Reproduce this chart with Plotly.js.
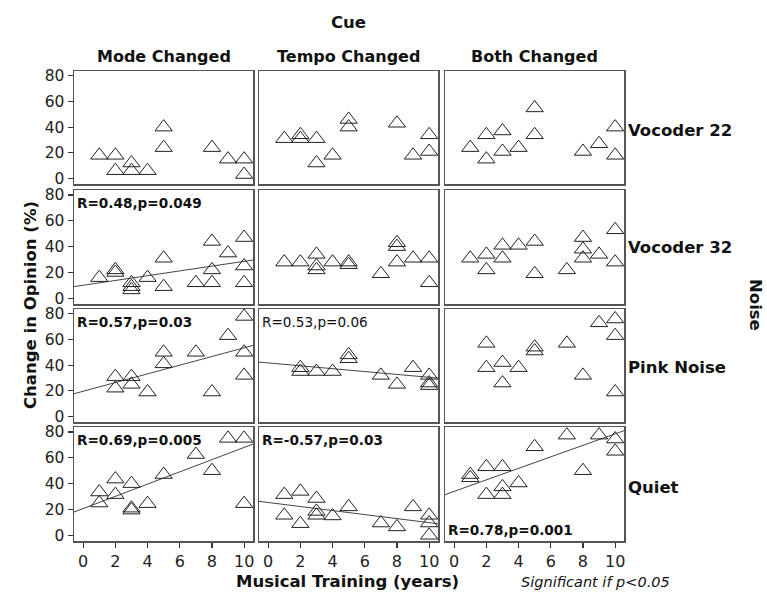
<!DOCTYPE html>
<html><head><meta charset="utf-8">
<script src="https://cdn.plot.ly/plotly-3.0.1.min.js"></script>
<style>body{margin:0;background:#fff;} #chart{width:767px;height:592px;}</style>
</head><body><div id="chart"></div>
<script>
// ---------- data ----------
const cues = ["Mode Changed", "Tempo Changed", "Both Changed"];
const noises = ["Vocoder 22", "Vocoder 32", "Pink Noise", "Quiet"];
const xTicks = [0, 2, 4, 6, 8, 10];
const yTicks = [0, 20, 40, 60, 80];

// Vocoder 22
const modeV22X  = [1, 2, 2, 3, 3, 4, 5, 5, 8, 9, 10, 10];
const modeV22Y  = [18, 18, 6, 12, 6, 6, 40, 24, 24, 15, 15, 3];
const tempoV22X = [1, 2, 2, 3, 3, 4, 5, 5, 8, 9, 10, 10];
const tempoV22Y = [31, 34, 31, 31, 12, 18, 46, 40, 43, 18, 34, 21];
const bothV22X  = [1, 2, 2, 3, 3, 4, 5, 5, 8, 9, 10, 10];
const bothV22Y  = [24, 34, 15, 37, 21, 24, 55, 34, 21, 27, 40, 18];

// Vocoder 32
const modeV32X  = [1, 2, 2, 3, 3, 3, 4, 5, 5, 7, 8, 8, 8, 9, 10, 10, 10];
const modeV32Y  = [16, 22, 20, 12, 9, 6.5, 16, 31, 9, 12, 44, 22, 12, 35, 47, 25, 12];
const tempoV32X = [1, 2, 3, 3, 3, 4, 5, 5, 7, 8, 8, 8, 9, 10, 10];
const tempoV32Y = [28, 28, 34, 25, 22, 28, 28, 26, 19, 43, 40, 28, 31, 31, 12];
const bothV32X  = [1, 2, 2, 3, 3, 4, 5, 5, 7, 8, 8, 8, 9, 10, 10];
const bothV32Y  = [31, 34, 22, 41, 31, 41, 44, 19, 22, 47, 38, 31, 34, 53, 28];

// Pink Noise
const modePinkX  = [2, 2, 3, 3, 4, 5, 5, 7, 8, 9, 10, 10, 10];
const modePinkY  = [31, 22, 31, 25, 19, 50, 41, 50, 19, 63, 78, 50, 32];
const tempoPinkX = [2, 2, 3, 4, 5, 5, 7, 8, 9, 10, 10, 10];
const tempoPinkY = [38, 35, 35, 35, 48, 45, 32, 25, 38, 32, 26, 24];
const bothPinkX  = [2, 2, 3, 3, 4, 5, 5, 7, 8, 9, 10, 10, 10];
const bothPinkY  = [57, 38, 42, 26, 38, 54, 51, 57, 32, 73, 76, 63, 19];

// Quiet
const modeQuietX  = [1, 1, 2, 2, 3, 3, 3, 4, 5, 7, 8, 9, 10, 10];
const modeQuietY  = [33.5, 25, 43.5, 31.5, 40, 21, 19.5, 24.5, 47, 62.5, 50, 75, 75, 24.5];
const tempoQuietX = [1, 1, 2, 2, 3, 3, 3, 4, 5, 7, 8, 9, 10, 10, 10];
const tempoQuietY = [31.5, 15.5, 34, 9, 28.5, 18.5, 15.5, 15, 22, 9.5, 6.5, 22, 15.5, 9.5, 0];
const bothQuietX  = [1, 1, 2, 2, 3, 3, 3, 4, 5, 7, 8, 9, 10, 10];
const bothQuietY  = [47, 44.5, 53, 31.5, 53, 37.5, 31.5, 40.5, 68.5, 77.5, 50, 77.5, 74.5, 65];

// regression fits per panel (row-major: rows = noise, cols = cue); null = no fit
const fitIntercept = [null, null, null,  10.1, null, null,  19.6, 41.7, null,  20.7, 25.4, 34.0];
const fitSlope     = [null, null, null,  1.85, null, null,  3.39, -1.12, null, 4.73, -1.56, 4.45];
const statText     = ["", "", "",  "R=0.48,p=0.049", "", "",  "R=0.57,p=0.03", "R=0.53,p=0.06", "",  "R=0.69,p=0.005", "R=-0.57,p=0.03", "R=0.78,p=0.001"];
const statBold     = [false, false, false, true, false, false, true, false, false, true, true, true];
const statAtBottom = [false, false, false, false, false, false, false, false, false, false, false, true];

const panelX = [modeV22X, tempoV22X, bothV22X, modeV32X, tempoV32X, bothV32X,
                modePinkX, tempoPinkX, bothPinkX, modeQuietX, tempoQuietX, bothQuietX];
const panelY = [modeV22Y, tempoV22Y, bothV22Y, modeV32Y, tempoV32Y, bothV32Y,
                modePinkY, tempoPinkY, bothPinkY, modeQuietY, tempoQuietY, bothQuietY];

// ---------- layout geometry (pixels) ----------
const W = 767, H = 592;
const colPx = [[74, 253], [259, 438], [445, 624]];
const rowPx = [[71, 184], [190, 304], [309, 422], [427, 541]];
const xRange = [-0.57, 10.55];
const yRange = [-4.4, 83.8];
const FONT = "'DejaVu Sans', Arial, sans-serif";
const px = v => v / W;
const py = v => 1 - v / H;

const traces = [];
const layout = {
  width: W, height: H,
  margin: {l: 0, r: 0, t: 0, b: 0},
  paper_bgcolor: "#ffffff", plot_bgcolor: "#ffffff",
  showlegend: false,
  font: {family: FONT, color: "#111"},
  annotations: []
};

for (let r = 0; r < 4; r++) {
  for (let c = 0; c < 3; c++) {
    const i = r * 3 + c;
    const k = i + 1;
    const xa = "x" + (k === 1 ? "" : k), ya = "y" + (k === 1 ? "" : k);
    const xKey = "xaxis" + (k === 1 ? "" : k), yKey = "yaxis" + (k === 1 ? "" : k);
    layout[xKey] = {
      domain: [px(colPx[c][0]), px(colPx[c][1])],
      range: xRange, anchor: ya,
      showgrid: false, zeroline: false,
      showline: true, mirror: true, linecolor: "#555", linewidth: 1.5,
      tickmode: "array", tickvals: xTicks,
      ticks: r === 3 ? "outside" : "", ticklen: 5, tickwidth: 1.2, tickcolor: "#333",
      showticklabels: r === 3,
      tickfont: {family: FONT, size: 16, color: "#222"}
    };
    layout[yKey] = {
      domain: [py(rowPx[r][1]), py(rowPx[r][0])],
      range: yRange, anchor: xa,
      showgrid: false, zeroline: false,
      showline: true, mirror: true, linecolor: "#555", linewidth: 1.5,
      tickmode: "array", tickvals: yTicks,
      ticks: c === 0 ? "outside" : "", ticklen: 5, tickwidth: 1.2, tickcolor: "#333",
      showticklabels: c === 0,
      tickfont: {family: FONT, size: 15.5, color: "#222"}
    };
    if (fitIntercept[i] !== null) {
      const fx = [xRange[0], xRange[1]];
      traces.push({
        x: fx, y: fx.map(v => fitIntercept[i] + fitSlope[i] * v),
        xaxis: xa, yaxis: ya, mode: "lines", type: "scatter",
        line: {color: "#444", width: 1}, hoverinfo: "skip", cliponaxis: true
      });
    }
    traces.push({
      x: panelX[i], y: panelY[i], xaxis: xa, yaxis: ya,
      type: "scatter", mode: "markers",
      marker: {symbol: "triangle-up-open", size: 15, color: "#222", line: {width: 1, color: "#222"}},
      cliponaxis: false
    });
    if (statText[i]) {
      const txt = statBold[i] ? "<b>" + statText[i] + "</b>" : statText[i];
      layout.annotations.push({
        xref: "paper", yref: "paper",
        x: px(colPx[c][0] + 1),
        y: statAtBottom[i] ? py(rowPx[r][1] - 1) : py(rowPx[r][0] + 3),
        xanchor: "left", yanchor: statAtBottom[i] ? "bottom" : "top",
        text: txt, showarrow: false,
        font: {family: FONT, size: 13.6, color: "#111"}
      });
    }
  }
}

// column headers
const colCenters = [164, 348, 534];
cues.forEach((t, c) => layout.annotations.push({
  xref: "paper", yref: "paper", x: px(colCenters[c]), y: py(57),
  xanchor: "center", yanchor: "middle", showarrow: false,
  text: "<b>" + t + "</b>", font: {family: FONT, size: 16, color: "#111"}
}));
// row labels
const rowCenters = [130, 248, 367, 487];
noises.forEach((t, r) => layout.annotations.push({
  xref: "paper", yref: "paper", x: px(626), y: py(rowCenters[r]),
  xanchor: "left", yanchor: "middle", showarrow: false,
  text: "<b>" + t + "</b>", font: {family: FONT, size: 16.5, color: "#111"}
}));
// outer titles
layout.annotations.push(
  {xref: "paper", yref: "paper", x: px(348), y: py(22), xanchor: "center", yanchor: "middle",
   showarrow: false, text: "<b>Cue</b>", font: {family: FONT, size: 16.5, color: "#111"}},
  {xref: "paper", yref: "paper", x: px(756), y: py(305), xanchor: "center", yanchor: "middle",
   showarrow: false, textangle: 90, text: "<b>Noise</b>", font: {family: FONT, size: 16.5, color: "#111"}},
  {xref: "paper", yref: "paper", x: px(30), y: py(305), xanchor: "center", yanchor: "middle",
   showarrow: false, textangle: -90, text: "<b>Change in Opinion (%)</b>", font: {family: FONT, size: 16.5, color: "#111"}},
  {xref: "paper", yref: "paper", x: px(347), y: py(581), xanchor: "center", yanchor: "middle",
   showarrow: false, text: "<b>Musical Training (years)</b>", font: {family: FONT, size: 16.5, color: "#111"}},
  {xref: "paper", yref: "paper", x: px(595), y: py(582), xanchor: "center", yanchor: "middle",
   showarrow: false, text: "<i>Significant if p<0.05</i>", font: {family: FONT, size: 14.5, color: "#111"}}
);

Plotly.newPlot("chart", traces, layout, {displayModeBar: false, staticPlot: true});
</script>
</body></html>
